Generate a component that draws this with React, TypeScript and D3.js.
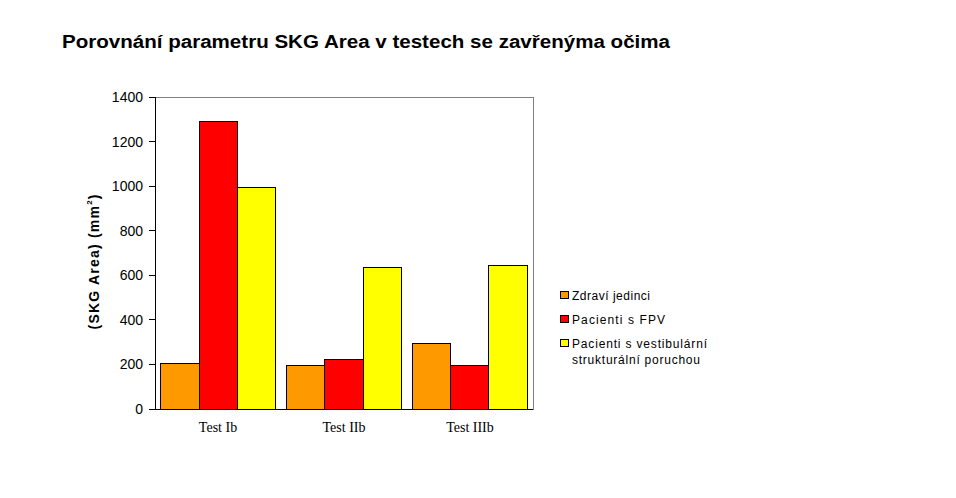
import React, { useEffect } from "react";
import * as d3 from "d3";

const categories = ["Test Ib", "Test IIb", "Test IIIb"];
const seriesNames = ["Zdraví jedinci", "Pacienti s FPV", "Pacienti s vestibulární strukturální poruchou"];
const legendLines = [["Zdraví jedinci"], ["Pacienti s FPV"], ["Pacienti s vestibulární", "strukturální poruchou"]];
const zdravi = [202, 193, 296];
const fpv = [1292, 224, 197];
const vestibularni = [996, 633, 642];
const yTicks = [0, 200, 400, 600, 800, 1000, 1200, 1400];
const colors = ["#FF9900", "#FF0000", "#FFFF00"];

export default function App() {
  useEffect(() => {
    document.body.style.margin = "0";
  }, []);
  const W = 956, H = 498;
  const left = 155, right = 533, top = 97, bottom = 409;
  const series = [zdravi, fpv, vestibularni];
  const x = d3.scaleBand<string>().domain(categories).range([left, right]).paddingInner(0.095).paddingOuter(0.0476);
  const xi = d3.scaleBand<number>().domain([0, 1, 2]).range([0, x.bandwidth()]);
  const y = d3.scaleLinear().domain([0, 1400]).range([bottom, top]);
  const font = "Arial, 'Liberation Sans', sans-serif";
  const legendY = [295, 319, 343];
  const legendLen = [[78], [93], [135, 128]];
  return (
    <svg width={W} height={H} style={{ display: "block", background: "#fff" }}>
      <text x={62} y={48} fontFamily={font} fontWeight="bold" fontSize={18} fill="#000" textLength={608} lengthAdjust="spacingAndGlyphs">
        Porovnání parametru SKG Area v testech se zavřenýma očima
      </text>
      <rect x={left} y={top} width={right - left} height={bottom - top} fill="#fff" stroke="#808080" strokeWidth={1} shapeRendering="crispEdges" />
      {categories.map((c, ci) =>
        series.map((s, si) => (
          <rect
            key={c + si}
            x={(x(c) as number) + (xi(si) as number)}
            y={y(s[ci])}
            width={xi.bandwidth()}
            height={bottom - y(s[ci])}
            fill={colors[si]}
            stroke="#000"
            strokeWidth={1}
            shapeRendering="crispEdges"
          />
        ))
      )}
      <line x1={left} x2={left} y1={top} y2={bottom} stroke="#000" shapeRendering="crispEdges" />
      <line x1={left} x2={right} y1={bottom} y2={bottom} stroke="#000" shapeRendering="crispEdges" />
      {yTicks.map((t) => (
        <g key={t}>
          <line x1={left - 6} x2={left} y1={y(t)} y2={y(t)} stroke="#000" shapeRendering="crispEdges" />
          <text x={left - 12} y={y(t) + 5} textAnchor="end" fontFamily={font} fontSize={14} fill="#000">
            {t}
          </text>
        </g>
      ))}
      {categories.map((c) => (
        <text key={c} x={(x(c) as number) + x.bandwidth() / 2} y={432} textAnchor="middle" fontFamily="'Times New Roman', 'Liberation Serif', serif" fontSize={14} fill="#000">
          {c}
        </text>
      ))}
      <text transform={`translate(99, 262) rotate(-90)`} textAnchor="middle" fontFamily={font} fontWeight="bold" fontSize={14} fill="#000" textLength={135} lengthAdjust="spacing">
        (SKG Area)  (mm<tspan dy={-7} fontSize={8}>2</tspan><tspan dy={7}>)</tspan>
      </text>
      {legendLines.map((lines, i) => {
        const yy = legendY[i];
        return (
          <g key={seriesNames[i]}>
            <rect x={560} y={yy - 3.5} width={8} height={7} fill={colors[i]} stroke="#000" strokeWidth={1} shapeRendering="crispEdges" />
            {lines.map((l, li) => (
              <text key={l} x={572} y={yy + 4.5 + li * 16} fontFamily={font} fontSize={12} fill="#000" textLength={legendLen[i][li]} lengthAdjust="spacing">
                {l}
              </text>
            ))}
          </g>
        );
      })}
    </svg>
  );
}
